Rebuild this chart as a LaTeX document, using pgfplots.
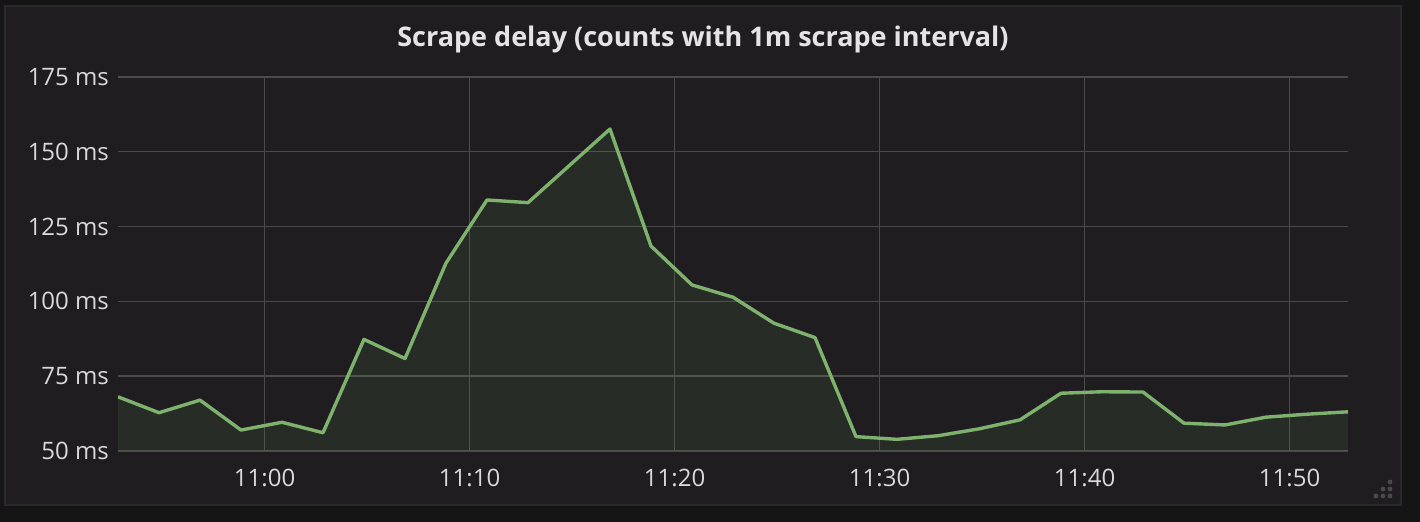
\documentclass[border=0pt]{standalone}
\usepackage{fontspec}
\setmainfont{Open Sans}
\usepackage{pgfplots}
\pgfplotsset{compat=1.18}
\usepackage{pgfplotstable}

\definecolor{outerbg}{HTML}{151515}
\definecolor{panelbg}{HTML}{1F1D20}
\definecolor{panelborder}{HTML}{2A2A2C}
\definecolor{gridc}{HTML}{4A4A4A}
\definecolor{txt}{HTML}{D8D9DA}
\definecolor{ttl}{HTML}{E4E4E6}
\definecolor{series}{HTML}{7EB26D}

% minutes after 11:00, delay in ms
\pgfplotstableread{
t       ms
-7.15   68.1
-5.15   62.8
-3.15   67.0
-1.15   57.0
0.85    59.6
2.85    56.1
4.85    87.3
6.85    80.9
8.85    112.8
10.85   133.9
12.85   133.0
14.85   145.3
16.85   157.6
18.85   118.5
20.85   105.5
22.85   101.4
24.85   92.7
26.85   87.9
28.85   54.8
30.85   53.9
32.85   55.1
34.85   57.4
36.85   60.4
38.85   69.3
40.85   69.8
42.85   69.7
44.85   59.3
46.85   58.7
48.85   61.3
50.85   62.3
52.85   63.1
}\delay

\begin{document}
\begin{tikzpicture}
% page and panel (1px = 0.5pt, origin at plot's lower left)
\fill[outerbg] (-59pt,-35.5pt) rectangle (651pt,225.5pt);
\filldraw[fill=panelbg, draw=panelborder, line width=1pt] (-56.5pt,-27pt) rectangle (641.5pt,222.5pt);
\node[text=ttl, font=\fontsize{13.5}{16}\selectfont\bfseries] at (292.5pt,205.5pt) {Scrape delay (counts with 1m scrape interval)};
\foreach \p in {(636pt,-22.5pt),(632.5pt,-22.5pt),(629pt,-22.5pt),(636pt,-19pt),(632.5pt,-19pt),(636pt,-15.5pt)}
  \fill[gridc] \p circle (1.2pt);
\begin{axis}[
  at={(0,0)}, anchor=south west,
  scale only axis,
  width=615pt, height=187pt,
  xmin=-7.15, xmax=52.85,
  ymin=50, ymax=175,
  xtick={0,10,20,30,40,50},
  xticklabels={11:00,11:10,11:20,11:30,11:40,11:50},
  ytick={50,75,100,125,150,175},
  yticklabels={50 ms,75 ms,100 ms,125 ms,150 ms,175 ms},
  /pgf/number format/assume math mode=true,
  major tick length=0pt,
  axis line style={draw=none},
  grid=major,
  major grid style={gridc, line width=0.7pt},
  ticklabel style={text=txt, font=\fontsize{12}{14}\selectfont},
  xticklabel style={yshift=-5.5pt},
  yticklabel style={xshift=-1pt},
]
\addplot[draw=none, fill=series, fill opacity=0.1] table[x=t, y=ms] {\delay} \closedcycle;
\addplot[series, line width=1.7pt, line join=round, mark=none] table[x=t, y=ms] {\delay};
\end{axis}
\end{tikzpicture}
\end{document}
